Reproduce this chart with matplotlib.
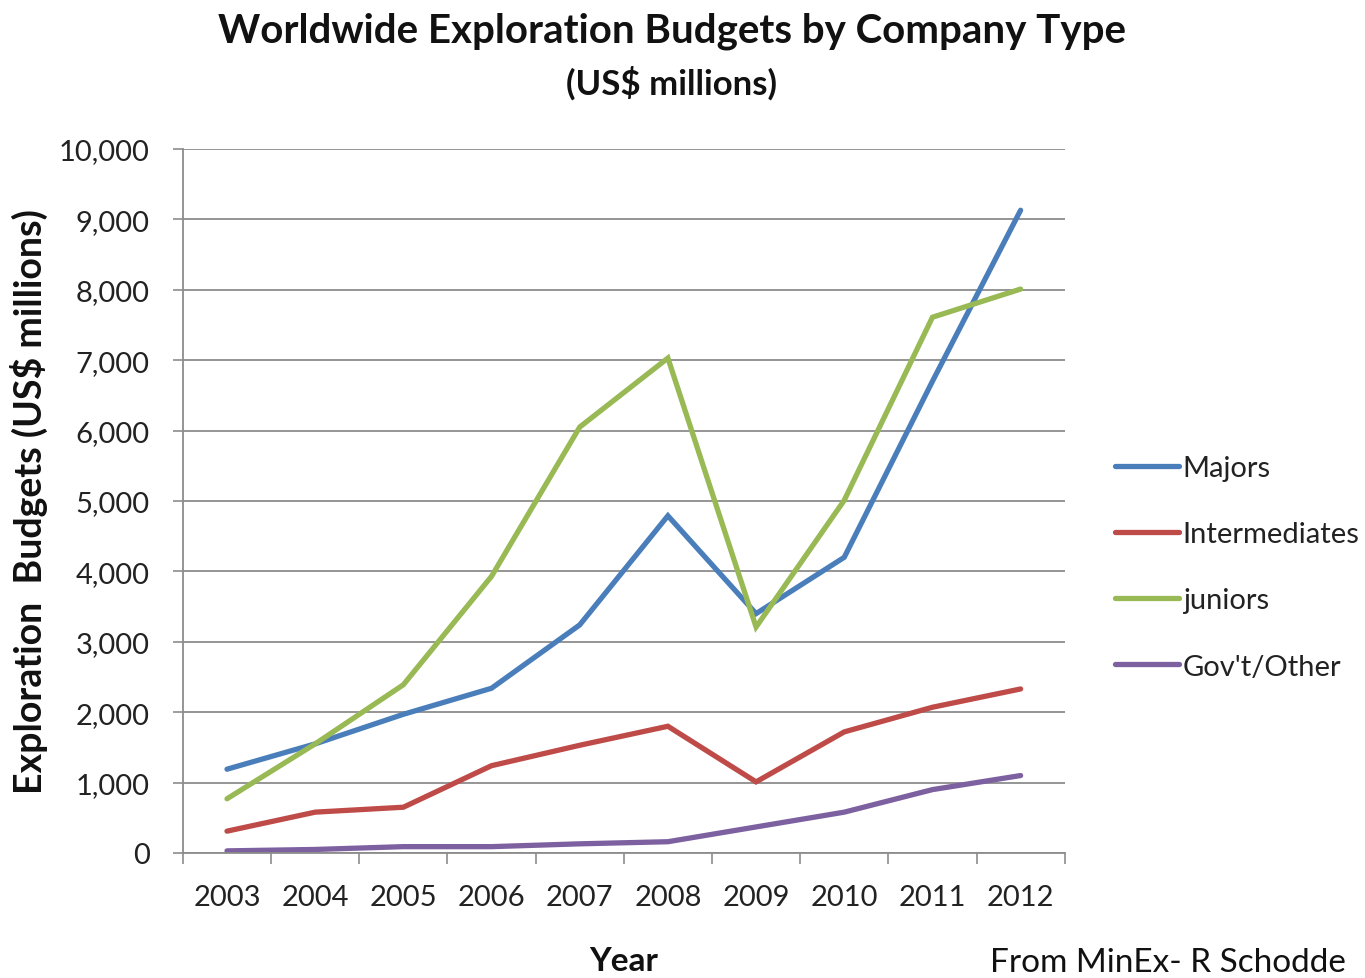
import matplotlib
matplotlib.use("Agg")
import matplotlib.pyplot as plt
from matplotlib.ticker import FuncFormatter, FixedLocator

plt.rcParams['font.family'] = ['Lato', 'DejaVu Sans']

years = ['2003', '2004', '2005', '2006', '2007', '2008', '2009', '2010', '2011', '2012']
majors = [1190, 1550, 1970, 2340, 3240, 4790, 3400, 4200, 6700, 9130]
intermediates = [310, 580, 650, 1240, 1530, 1800, 1010, 1720, 2070, 2330]
juniors = [770, 1550, 2390, 3930, 6050, 7030, 3210, 5010, 7610, 8010]
govt_other = [30, 50, 90, 90, 130, 160, 370, 580, 900, 1100]

series_names = ['Majors', 'Intermediates', 'juniors', "Gov't/Other"]
series_values = [majors, intermediates, juniors, govt_other]
colors = ['#4A7EBB', '#BE4B48', '#98B954', '#7D60A0']

fig = plt.figure(figsize=(13.65, 9.79), dpi=100)
ax = fig.add_axes([0.134, 0.1277, 0.646, 0.7191])

x = list(range(len(years)))
for name, vals, c in zip(series_names, series_values, colors):
    ax.plot(x, vals, color=c, lw=3.8, label=name, solid_capstyle='round', solid_joinstyle='miter')

ax.set_xlim(-0.5, len(years) - 0.5)
ax.set_ylim(0, 10000)
ax.set_yticks(range(0, 10001, 1000))
ax.yaxis.set_major_formatter(FuncFormatter(lambda v, p: f"{int(v):,}"))
ax.grid(axis='y', color='#8c8c8c', lw=1.3)
ax.set_axisbelow(True)

# category axis: labels at centers, ticks between categories
ax.set_xticks(x)
ax.set_xticklabels(years, fontsize=21, color='#222222')
ax.tick_params(axis='x', which='major', length=0, pad=22)
ax.xaxis.set_minor_locator(FixedLocator([i - 0.5 for i in range(len(years) + 1)]))
ax.tick_params(axis='x', which='minor', length=8, width=1.2, color='#8c8c8c', direction='out')
ax.tick_params(axis='y', length=7, width=1.2, color='#8c8c8c', labelsize=21, labelcolor='#222222', pad=17)

for s in ['top', 'right']:
    ax.spines[s].set_visible(False)
for s in ['left', 'bottom']:
    ax.spines[s].set_color('#8c8c8c')
    ax.spines[s].set_linewidth(1.3)

ax.set_ylabel('Exploration  Budgets (US$ millions)', fontsize=27, fontweight='bold', labelpad=8, color='#111111')
ax.set_xlabel('Year', fontsize=24, fontweight='bold', labelpad=26, color='#111111')

fig.text(0.492, 0.968, 'Worldwide Exploration Budgets by Company Type', ha='center', va='center',
         fontsize=29, fontweight='bold', color='#111111')
fig.text(0.492, 0.915, '(US$ millions)', ha='center', va='center',
         fontsize=25, fontweight='bold', color='#111111')

leg = ax.legend(loc='center left', bbox_to_anchor=(1.057, 0.406), frameon=False, fontsize=21,
                handlelength=2.2, handletextpad=0.12, labelspacing=1.38, borderaxespad=0, borderpad=0)
for t in leg.get_texts():
    t.set_color('#222222')

fig.text(0.725, 0.016, 'From MinEx- R Schodde', ha='left', va='center', fontsize=24, color='#111111')

fig.savefig('out.png', dpi=100)
